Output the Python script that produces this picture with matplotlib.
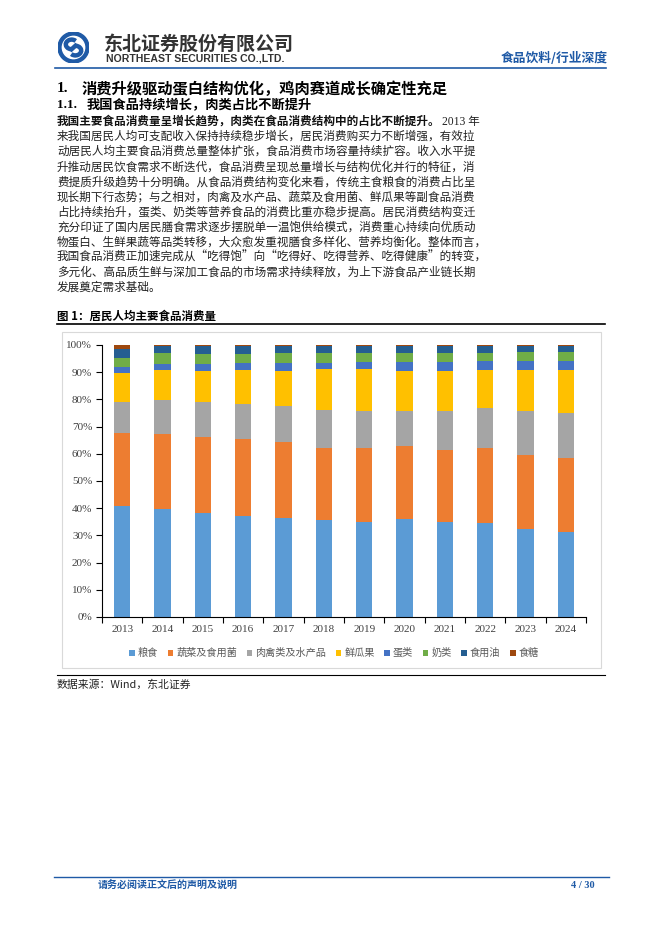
import numpy as np
import matplotlib
matplotlib.use("Agg")
from matplotlib import pyplot as plt
from matplotlib.patches import Rectangle, Circle, Arc
from matplotlib.lines import Line2D

plt.rcParams['font.family'] = ['Noto Sans CJK SC', 'DejaVu Sans']

# ---- data (share of per-capita food consumption, %) ----
years = ['2013', '2014', '2015', '2016', '2017', '2018',
         '2019', '2020', '2021', '2022', '2023', '2024']
names = ['粮食', '蔬菜及食用菌', '肉禽类及水产品', '鲜瓜果', '蛋类', '奶类', '食用油', '食糖']
grain = [40.7, 39.6, 38.3, 37.2, 36.4, 35.5, 35.0, 36.0, 34.8, 34.4, 32.3, 31.2]
veg   = [26.8, 27.6, 27.7, 28.1, 28.0, 26.8, 27.0, 26.8, 26.5, 27.6, 27.3, 27.3]
meat  = [11.6, 12.6, 13.0, 13.1, 13.1, 13.8, 13.7, 13.0, 14.4, 14.8, 16.2, 16.6]
fruit = [10.7, 11.0, 11.6, 12.4, 13.1, 14.9, 15.3, 14.8, 14.9, 14.0, 15.0, 15.7]
egg   = [2.1, 2.3, 2.4, 2.5, 2.9, 2.5, 2.6, 3.0, 3.0, 3.2, 3.2, 3.2]
milk  = [3.4, 3.8, 3.7, 3.4, 3.4, 3.4, 3.6, 3.6, 3.6, 3.2, 3.4, 3.4]
oil   = [3.3, 2.8, 3.0, 3.0, 2.8, 2.8, 2.5, 2.5, 2.5, 2.5, 2.3, 2.3]
sugar = [1.4, 0.3, 0.3, 0.3, 0.3, 0.3, 0.3, 0.3, 0.3, 0.3, 0.3, 0.3]
series = [grain, veg, meat, fruit, egg, milk, oil, sugar]
colors = ['#5B9BD5', '#ED7D31', '#A5A5A5', '#FFC000', '#4472C4', '#70AD47', '#255E91', '#9E480E']

body_bold = '我国主要食品消费量呈增长趋势，肉类在食品消费结构中的占比不断提升。'
body_lines = [
    '来我国居民人均可支配收入保持持续稳步增长，居民消费购买力不断增强，有效拉',
    '动居民人均主要食品消费总量整体扩张，食品消费市场容量持续扩容。收入水平提',
    '升推动居民饮食需求不断迭代，食品消费呈现总量增长与结构优化并行的特征，消',
    '费提质升级趋势十分明确。从食品消费结构变化来看，传统主食粮食的消费占比呈',
    '现长期下行态势；与之相对，肉禽及水产品、蔬菜及食用菌、鲜瓜果等副食品消费',
    '占比持续抬升，蛋类、奶类等营养食品的消费比重亦稳步提高。居民消费结构变迁',
    '充分印证了国内居民膳食需求逐步摆脱单一温饱供给模式，消费重心持续向优质动',
    '物蛋白、生鲜果蔬等品类转移，大众愈发重视膳食多样化、营养均衡化。整体而言，',
    '我国食品消费正加速完成从“吃得饱”向“吃得好、吃得营养、吃得健康”的转变，',
    '多元化、高品质生鲜与深加工食品的市场需求持续释放，为上下游食品产业链长期',
    '发展奠定需求基础。',
]

W, H = 662, 936
fig = plt.figure(figsize=(W / 100, H / 100), dpi=100)

def fx(x):
    return x / W

def fy(y):
    return 1 - y / H

blue = '#1F5AA6'

# ---- header ----
lax = fig.add_axes([fx(58), fy(63), fx(31), 31 / H])
lax.set_xlim(-1, 1); lax.set_ylim(-1, 1); lax.set_aspect('equal'); lax.axis('off')
lax.add_patch(Circle((0, 0), 1.0, color=blue))
lax.add_patch(Circle((0, 0), 0.72, color='white'))
lax.add_patch(Arc((-0.12, 0.2), 0.75, 0.62, theta1=40, theta2=270, lw=3.2, color=blue))
lax.add_patch(Arc((0.12, -0.2), 0.75, 0.62, theta1=220, theta2=450, lw=3.2, color=blue))
lax.plot([-0.12, 0.12], [-0.11, 0.11], color=blue, lw=3.2)

fig.text(fx(104), fy(44), '东北证券股份有限公司', fontsize=13.7, fontweight='bold',
         color='#333333', va='center', ha='left')
fig.text(fx(106), fy(58.5), 'NORTHEAST SECURITIES CO.,LTD.', fontsize=7.6, fontweight='bold',
         family='Liberation Sans', color='#333333', va='center', ha='left')
fig.text(fx(608), fy(58), '食品饮料/行业深度', fontsize=9.2, fontweight='bold',
         color=blue, va='center', ha='right')
fig.add_artist(Line2D([fx(55), fx(606)], [fy(67.5), fy(67.5)], color=blue, lw=1.2))

# ---- titles ----
fig.text(fx(57), fy(88.5), '1.', fontsize=11, fontweight='bold', va='center', ha='left',
         family='Liberation Serif')
fig.text(fx(82), fy(88.5), '消费升级驱动蛋白结构优化，鸡肉赛道成长确定性充足', fontsize=11,
         fontweight='bold', va='center', ha='left')
fig.text(fx(57), fy(105), '1.1.', fontsize=9.5, fontweight='bold', va='center', ha='left',
         family='Liberation Serif')
fig.text(fx(87), fy(105), '我国食品持续增长，肉类占比不断提升', fontsize=9.5,
         fontweight='bold', va='center', ha='left')

# ---- body text ----
y0, dy = 121.5, 15.1
fs = 8.35
tb = fig.text(fx(57), fy(y0), body_bold, fontsize=fs, fontweight='bold',
              va='center', ha='left', color='#111111')
r = fig.canvas.get_renderer()
ext = tb.get_window_extent(renderer=r)
fig.text(ext.x1 / W + 0.002, fy(y0), '2013 年', fontsize=fs, va='center', ha='left',
         color='#222222', family=['Liberation Serif', 'Noto Sans CJK SC'])
for i, line in enumerate(body_lines):
    fig.text(fx(57), fy(y0 + dy * (i + 1)), line, fontsize=fs, va='center', ha='left',
             color='#222222')

# ---- figure caption ----
fig.text(fx(57), fy(316.5), '图 1：居民人均主要食品消费量', fontsize=8.3, fontweight='bold',
         va='center', ha='left')
fig.add_artist(Line2D([fx(57), fx(605)], [fy(324), fy(324)], color='black', lw=1.2))
fig.add_artist(Rectangle((fx(62), fy(668)), fx(601) - fx(62), (668 - 332) / H,
                         transform=fig.transFigure, fill=False, ec='#D9D9D9', lw=0.8))

# ---- chart ----
ax = fig.add_axes([fx(102), fy(617), fx(586) - fx(102), (617 - 345) / H])
x = np.arange(len(years))
bottom = np.zeros(len(years))
handles = []
for vals, c, n in zip(series, colors, names):
    v = np.array(vals)
    b = ax.bar(x, v, 0.4, bottom=bottom, color=c, label=n, edgecolor='none')
    handles.append(b)
    bottom += v
ax.set_xlim(-0.5, len(years) - 0.5)
ax.set_ylim(0, 100)
ax.set_yticks(np.arange(0, 101, 10))
ax.set_yticklabels([f'{v}%' for v in range(0, 101, 10)])
ax.set_xticks(x)
ax.set_xticklabels(years)
ax.set_xticks(np.arange(-0.5, len(years), 1), minor=True)
ax.tick_params(axis='x', which='major', length=0, pad=6)
ax.tick_params(axis='x', which='minor', length=4, direction='out', width=0.8)
ax.tick_params(axis='y', length=4, direction='out', width=0.8, pad=3)
for lab in ax.get_xticklabels() + ax.get_yticklabels():
    lab.set_family('Liberation Serif')
    lab.set_fontsize(8)
    lab.set_color('#404040')
for s in ['top', 'right']:
    ax.spines[s].set_visible(False)
for s in ['left', 'bottom']:
    ax.spines[s].set_linewidth(0.8)
    ax.spines[s].set_color('black')

leg = ax.legend(handles=handles, loc='center', bbox_to_anchor=(fx(334), fy(653)),
                bbox_transform=fig.transFigure, ncol=8, frameon=False, fontsize=7.3,
                handlelength=0.55, handleheight=0.55, handletextpad=0.3,
                columnspacing=0.95)
for t in leg.get_texts():
    t.set_color('#595959')

# ---- source ----
fig.add_artist(Line2D([fx(57), fx(605)], [fy(675), fy(675)], color='black', lw=0.8))
fig.text(fx(57), fy(684.5), '数据来源：Wind，东北证券', fontsize=7.8, va='center', ha='left',
         color='#222222', family=['Noto Sans CJK SC', 'Liberation Serif'])

# ---- footer ----
fig.add_artist(Line2D([fx(54), fx(609)], [fy(876.5), fy(876.5)], color=blue, lw=1.0))
fig.text(fx(98), fy(886), '请务必阅读正文后的声明及说明', fontsize=7.2, fontweight='bold',
         color=blue, va='center', ha='left')
fig.text(fx(595), fy(886), '4 / 30', fontsize=7.5, fontweight='bold', color=blue,
         va='center', ha='right', family='Liberation Serif')

fig.savefig('out.png', dpi=100)
